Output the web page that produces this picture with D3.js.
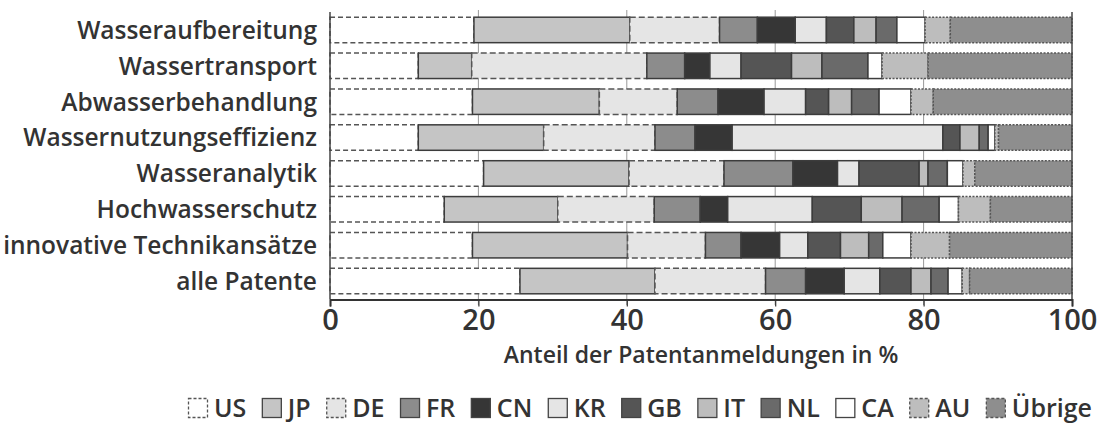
<!DOCTYPE html>
<html><head><meta charset="utf-8">
<script src="https://cdn.jsdelivr.net/npm/d3@7/dist/d3.min.js"></script>
<style>
html,body{margin:0;padding:0;background:#fff;}
svg text{font-family:"Open Sans",sans-serif;font-weight:600;fill:#333;}
</style></head><body>
<svg id="chart" width="1101" height="430"></svg>
<script>
const categories = ["Wasseraufbereitung","Wassertransport","Abwasserbehandlung","Wassernutzungseffizienz","Wasseranalytik","Hochwasserschutz","innovative Technikansätze","alle Patente"];
const countries = ["US","JP","DE","FR","CN","KR","GB","IT","NL","CA","AU","Übrige"];
const US     = [19.4, 11.9, 19.2, 11.9, 20.7, 15.4, 19.2, 25.6];
const JP     = [21.0,  7.2, 17.1, 16.9, 19.6, 15.3, 20.9, 18.2];
const DE     = [12.1, 23.6, 10.5, 15.0, 12.8, 13.0, 10.5, 14.9];
const FR     = [ 5.1,  5.1,  5.5,  5.4,  9.3,  6.2,  4.8,  5.4];
const CN     = [ 5.1,  3.4,  6.2,  5.0,  6.0,  3.7,  5.2,  5.2];
const KR     = [ 4.2,  4.2,  5.6, 28.4,  2.9, 11.4,  3.8,  4.8];
const GB     = [ 3.7,  6.8,  3.1,  2.3,  8.1,  6.6,  4.4,  4.2];
const IT     = [ 3.0,  4.1,  3.1,  2.6,  1.2,  5.5,  3.8,  2.7];
const NL     = [ 2.8,  6.2,  3.7,  1.2,  2.6,  5.0,  1.9,  2.3];
const CA     = [ 3.8,  1.9,  4.3,  0.9,  2.1,  2.6,  3.8,  1.9];
const AU     = [ 3.4,  6.2,  3.0,  0.5,  1.6,  4.3,  5.2,  1.0];
const Uebrige= [16.4, 19.4, 18.7,  9.9, 13.1, 11.0, 16.5, 13.8];
const xTicks = [0,20,40,60,80,100];
const xTitle = "Anteil der Patentanmeldungen in %";

const seriesValues = [US,JP,DE,FR,CN,KR,GB,IT,NL,CA,AU,Uebrige];
const fills  = ["#ffffff","#c5c5c5","#e5e5e5","#8c8c8c","#363636","#e5e5e5","#555555","#bdbdbd","#6a6a6a","#ffffff","#bdbdbd","#8e8e8e"];
const dashes = ["5,3",null,"6,3",null,null,null,null,null,null,null,"2,1.5","2,1.5"];

const rows = categories.map((c,i)=>{const o={cat:c}; countries.forEach((k,j)=>o[k]=seriesValues[j][i]); return o;});
const stacked = d3.stack().keys(countries)(rows);

const svg = d3.select("#chart");
const L=330, R=1072, T=12, B=299;
const x = d3.scaleLinear().domain([0,100]).range([L,R]);
const y = d3.scaleBand().domain(categories).range([T,B]).paddingInner(0.29).paddingOuter(0.145);

// grid
svg.append("g").selectAll("line").data(xTicks.slice(1,-1)).join("line")
  .attr("x1",d=>x(d)).attr("x2",d=>x(d)).attr("y1",T-2).attr("y2",B+6)
  .attr("stroke","#999").attr("stroke-width",1);

// bars
const gBars = svg.append("g");
stacked.forEach((s,j)=>{
  gBars.append("g").selectAll("rect").data(s).join("rect")
    .attr("x",d=>x(d[0])).attr("width",d=>x(d[1])-x(d[0]))
    .attr("y",d=>y(d.data.cat)).attr("height",y.bandwidth())
    .attr("fill",fills[j]).attr("stroke", dashes[j]?"#555":"#3c3c3c")
    .attr("stroke-width",1.5)
    .attr("stroke-dasharray",dashes[j]);
});

// frame
svg.append("line").attr("x1",L).attr("x2",L).attr("y1",T).attr("y2",B).attr("stroke","#444").attr("stroke-width",1.5);
svg.append("line").attr("x1",R).attr("x2",R).attr("y1",T).attr("y2",B).attr("stroke","#444").attr("stroke-width",1.5);

// x axis
const ax = svg.append("g").attr("transform",`translate(0,${B+0.5})`)
  .call(d3.axisBottom(x).tickValues(xTicks).tickSize(7).tickPadding(3).tickFormat(d3.format("d")));
ax.select(".domain").attr("stroke","#333").attr("stroke-width",2);
ax.selectAll(".tick line").attr("stroke","#333").attr("stroke-width",1.2);
ax.selectAll(".tick text").style("font-family","'Open Sans',sans-serif").style("font-weight","600")
  .attr("font-size",29).attr("fill","#333");

svg.append("text").attr("x",(L+R)/2).attr("y",363).attr("text-anchor","middle")
  .attr("font-size",23).text(xTitle);

// y labels
svg.append("g").selectAll("text").data(categories).join("text")
  .attr("x",L-13).attr("y",d=>y(d)+y.bandwidth()/2).attr("dy","0.36em")
  .attr("text-anchor","end").attr("font-size",24.5).text(d=>d);

// legend
const lg = svg.append("g");
const box=20, gap=6, lfs=25;
const items = countries.map((c,j)=>{
  const g = lg.append("g");
  g.append("rect").attr("width",box-1).attr("height",box-1).attr("x",0.5).attr("y",0.5)
    .attr("fill",fills[j]).attr("stroke", dashes[j]?"#555":"#444").attr("stroke-width",1.3)
    .attr("stroke-dasharray",dashes[j]?"3,2":null);
  const t = g.append("text").attr("x",box+gap).attr("y",box/2).attr("dy","0.36em").attr("font-size",lfs).text(c);
  return {g, w: box+gap+t.node().getComputedTextLength()};
});
const lx0=188, lx1=1092;
const sumW = d3.sum(items,d=>d.w);
const sp = (lx1-lx0-sumW)/(items.length-1);
let cx = lx0;
items.forEach(it=>{ it.g.attr("transform",`translate(${cx},${398})`); cx += it.w+sp; });
</script>
</body></html>
